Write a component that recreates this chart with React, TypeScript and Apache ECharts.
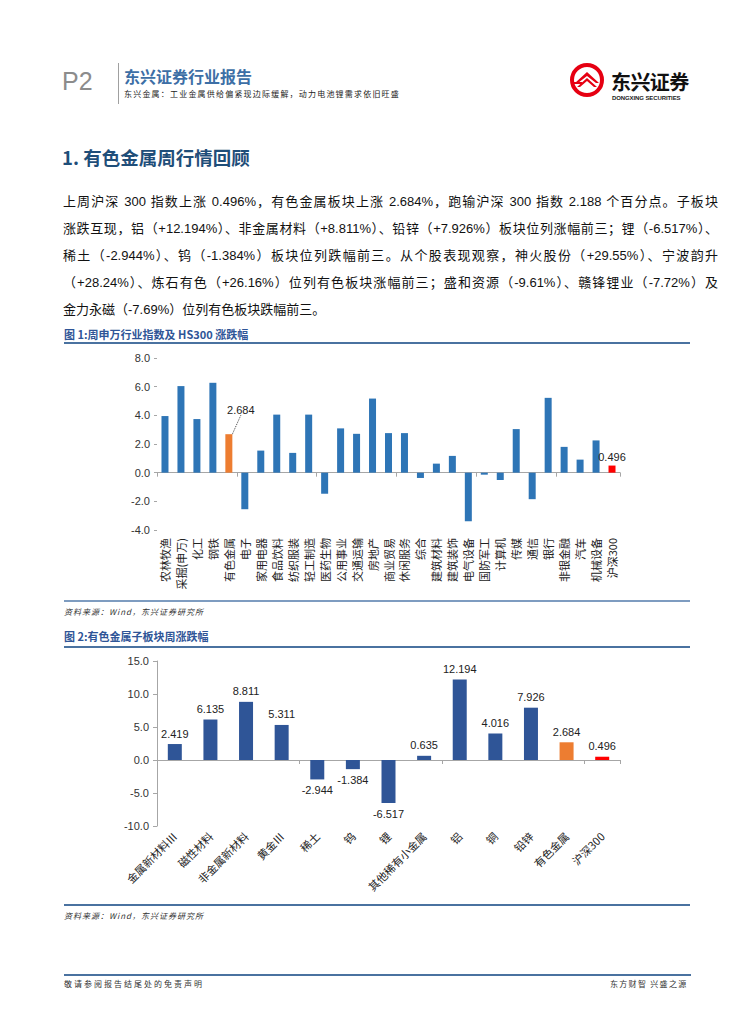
import React, { useEffect, useRef } from "react";
import * as echarts from "echarts";

const cats1 = ["农林牧渔", "采掘(申万)", "化工", "钢铁", "有色金属", "电子", "家用电器", "食品饮料", "纺织服装", "轻工制造", "医药生物", "公用事业", "交通运输", "房地产", "商业贸易", "休闲服务", "综合", "建筑材料", "建筑装饰", "电气设备", "国防军工", "计算机", "传媒", "通信", "银行", "非银金融", "汽车", "机械设备", "沪深300"];
const vals1 = [3.95, 6.04, 3.74, 6.27, 2.684, -2.55, 1.54, 4.05, 1.38, 4.05, -1.47, 3.09, 2.71, 5.17, 2.76, 2.76, -0.37, 0.63, 1.17, -3.39, -0.14, -0.51, 3.04, -1.85, 5.22, 1.8, 0.91, 2.25, 0.496];
const labeled1 = ["有色金属", "沪深300"];

const cats2 = ["金属新材料Ⅲ", "磁性材料", "非金属新材料", "黄金Ⅲ", "稀土", "钨", "锂", "其他稀有小金属", "铝", "铜", "铅锌", "有色金属", "沪深300"];
const vals2 = [2.419, 6.135, 8.811, 5.311, -2.944, -1.384, -6.517, 0.635, 12.194, 4.016, 7.926, 2.684, 0.496];

const yTicks1 = { min: -4, max: 8, interval: 2 };
const yTicks2 = { min: -10, max: 15, interval: 5 };

const paraLines = [
  "上周沪深 300 指数上涨 0.496%，有色金属板块上涨 2.684%，跑输沪深 300 指数 2.188 个百分点。子板块",
  "涨跌互现，铝（+12.194%）、非金属材料（+8.811%）、铅锌（+7.926%）板块位列涨幅前三；锂（-6.517%）、",
  "稀土（-2.944%）、钨（-1.384%）板块位列跌幅前三。从个股表现观察，神火股份（+29.55%）、宁波韵升",
  "（+28.24%）、炼石有色（+26.16%）位列有色板块涨幅前三；盛和资源（-9.61%）、赣锋锂业（-7.72%）及",
  "金力永磁（-7.69%）位列有色板块跌幅前三。",
];

const BLUE1 = "#2E75B6";
const BLUE2 = "#2F5597";
const ORANGE = "#ED7D31";
const RED = "#FF0000";
const FONT = "'Liberation Sans', 'Noto Sans CJK SC', sans-serif";
const CJK = "'Noto Sans CJK SC', 'Liberation Sans', sans-serif";

function colorFor(name: string, base: string) {
  if (name === "有色金属") return ORANGE;
  if (name === "沪深300") return RED;
  return base;
}

function Chart1() {
  const ref = useRef<HTMLDivElement>(null);
  useEffect(() => {
    const chart = echarts.init(ref.current!, null, { renderer: "svg" });
    const data = vals1.map((v, i) => {
      const name = cats1[i];
      const item: any = { value: v, itemStyle: { color: colorFor(name, BLUE1) } };
      if (labeled1.includes(name)) {
        item.label = {
          show: true,
          position: "top",
          distance: 3,
          color: "#222",
          fontSize: 11,
          fontFamily: FONT,
          formatter: (p: any) => String(p.value),
        };
        if (name === "有色金属") item.labelLine = { show: true, lineStyle: { color: "#444", width: 1, type: "dotted" } };
      }
      return item;
    });
    chart.setOption({
      animation: false,
      grid: { left: 157, top: 18, width: 463, height: 172 },
      xAxis: [
        {
          type: "category",
          data: cats1,
          position: "bottom",
          axisLine: { show: false, onZero: false },
          axisTick: { show: false },
          axisLabel: { rotate: 90, interval: 0, margin: 8, fontSize: 11, color: "#222", fontFamily: CJK },
        },
        {
          type: "category",
          data: cats1,
          position: "bottom",
          axisLine: { show: true, onZero: true, lineStyle: { color: "#A6A6A6", width: 1 } },
          axisTick: { show: true, length: 4, lineStyle: { color: "#A6A6A6" } },
          axisLabel: { show: false },
        },
      ],
      yAxis: {
        type: "value",
        ...yTicks1,
        axisLine: { show: false },
        axisTick: { show: true, length: 3, lineStyle: { color: "#A6A6A6" } },
        splitLine: { show: false },
        axisLabel: { fontSize: 11, color: "#333", fontFamily: FONT, margin: 7, formatter: (v: number) => v.toFixed(1) },
      },
      series: [
        {
          type: "bar",
          xAxisIndex: 0,
          barWidth: 7,
          data,
          labelLayout: (p: any) => (p.dataIndex === 4 ? { dx: 12, dy: -16 } : {}),
        },
      ],
    });
    return () => chart.dispose();
  }, []);
  return <div ref={ref} style={{ position: "absolute", left: 0, top: 340, width: 755, height: 260 }} />;
}

function Chart2() {
  const ref = useRef<HTMLDivElement>(null);
  useEffect(() => {
    const chart = echarts.init(ref.current!, null, { renderer: "svg" });
    const data = vals2.map((v, i) => ({
      value: v,
      itemStyle: { color: colorFor(cats2[i], BLUE2) },
      label: { position: v < 0 ? "bottom" : "top" },
    }));
    chart.setOption({
      animation: false,
      grid: { left: 157, top: 11, width: 463, height: 165 },
      xAxis: [
        {
          type: "category",
          data: cats2,
          position: "bottom",
          axisLine: { show: false, onZero: false },
          axisTick: { show: false },
          axisLabel: { rotate: 45, interval: 0, margin: 8, fontSize: 11, color: "#222", fontFamily: CJK },
        },
        {
          type: "category",
          data: cats2,
          position: "bottom",
          axisLine: { show: true, onZero: true, lineStyle: { color: "#A6A6A6", width: 1 } },
          axisTick: { show: true, length: 4, lineStyle: { color: "#A6A6A6" } },
          axisLabel: { show: false },
        },
      ],
      yAxis: {
        type: "value",
        ...yTicks2,
        axisLine: { show: true, lineStyle: { color: "#A6A6A6" } },
        axisTick: { show: true, length: 4, lineStyle: { color: "#A6A6A6" } },
        splitLine: { show: false },
        axisLabel: { fontSize: 11, color: "#333", fontFamily: FONT, margin: 8, formatter: (v: number) => v.toFixed(1) },
      },
      series: [
        {
          type: "bar",
          xAxisIndex: 0,
          barWidth: 14,
          data,
          label: { show: true, distance: 5, fontSize: 11, color: "#222", fontFamily: FONT },
        },
      ],
    });
    return () => chart.dispose();
  }, []);
  return <div ref={ref} style={{ position: "absolute", left: 0, top: 650, width: 755, height: 255 }} />;
}

const abs = (x: number, y: number, extra: any = {}) => ({ position: "absolute" as const, left: x, top: y, whiteSpace: "nowrap" as const, ...extra });

export default function App() {
  return (
    <div style={{ position: "absolute", left: 0, top: 0, width: 755, height: 1024, background: "#fff", overflow: "hidden", fontFamily: CJK, color: "#111" }}>
      {/* header */}
      <div style={abs(62, 67, { fontSize: 25, color: "#8C8C8C", fontFamily: "'Liberation Sans', sans-serif", lineHeight: "28px" })}>P2</div>
      <div style={abs(118, 63, { width: 0, height: 41, borderLeft: "1.5px solid #A0A0A0" })} />
      <div style={abs(124, 67, { fontSize: 16, fontWeight: 700, color: "#3D6FA6", lineHeight: "19px" })}>东兴证券行业报告</div>
      <div style={abs(124, 89, { fontSize: 8, color: "#222", lineHeight: "10px", letterSpacing: "1.2px" })}>东兴金属：工业金属供给偏紧现边际缓解，动力电池锂需求依旧旺盛</div>
      <svg style={abs(568, 62)} width="40" height="40" viewBox="0 0 40 40">
        <circle cx="19" cy="18" r="15" fill="#fff" stroke="#E60012" strokeWidth="4" />
        <polygon points="7,21 19,10 31,21 28,21 19,14 10,21" fill="#E60012" />
        <polygon points="9,25 19,16 29,25 26,25 19,19 12,25" fill="#E60012" />
        <rect x="6" y="20" width="8" height="2" fill="#E60012" />
      </svg>
      <div style={abs(611, 71, { fontSize: 20, fontWeight: 700, color: "#111", lineHeight: "21px", letterSpacing: "-0.6px" })}>东兴证券</div>
      <div style={abs(612, 95, { fontSize: 6, fontWeight: 700, color: "#222", lineHeight: "7px", fontFamily: "'Liberation Sans', sans-serif", letterSpacing: "-0.1px" })}>DONGXING SECURITIES</div>

      {/* section title */}
      <div style={abs(62, 146, { fontSize: 18.5, fontWeight: 700, color: "#1F4E79", lineHeight: "22px" })}>1. 有色金属周行情回顾</div>

      {/* paragraph */}
      {paraLines.map((t, i) => (
        <div
          key={i}
          style={{
            position: "absolute",
            left: 63,
            top: 193 + i * 27,
            width: i < 4 ? 655 : undefined,
            whiteSpace: "nowrap",
            fontSize: 13,
            lineHeight: "18px",
            color: "#111",
            textAlign: i < 4 ? ("justify" as const) : ("left" as const),
            textAlignLast: i < 4 ? ("justify" as const) : ("auto" as const),
            fontFamily: "'Liberation Sans', 'Noto Sans CJK SC', sans-serif",
          }}
        >
          {t}
        </div>
      ))}

      {/* figure 1 */}
      <div style={abs(64, 326, { fontSize: 11, fontWeight: 700, color: "#2F5597", lineHeight: "16px" })}>图 1:周申万行业指数及 HS300 涨跌幅</div>
      <div style={abs(64, 342, { width: 626, height: 0, borderTop: "2px solid #4A72A0" })} />
      <Chart1 />
      <div style={abs(64, 600, { width: 626, height: 0, borderTop: "2px solid #7E9CC0" })} />
      <div style={abs(64, 606, { fontSize: 8, fontStyle: "italic", color: "#333", lineHeight: "12px", letterSpacing: "1px" })}>资料来源：Wind，东兴证券研究所</div>

      {/* figure 2 */}
      <div style={abs(64, 628, { fontSize: 11, fontWeight: 700, color: "#2F5597", lineHeight: "16px" })}>图 2:有色金属子板块周涨跌幅</div>
      <div style={abs(64, 646, { width: 626, height: 0, borderTop: "2px solid #4A72A0" })} />
      <Chart2 />
      <div style={abs(64, 904, { width: 626, height: 0, borderTop: "2px solid #4A72A0" })} />
      <div style={abs(64, 910, { fontSize: 8, fontStyle: "italic", color: "#333", lineHeight: "12px", letterSpacing: "1px" })}>资料来源：Wind，东兴证券研究所</div>

      {/* footer */}
      <div style={abs(64, 974, { width: 627, height: 0, borderTop: "2px solid #4A72A0" })} />
      <div style={abs(64, 978, { fontSize: 8, color: "#333", lineHeight: "12px", letterSpacing: "2px" })}>敬请参阅报告结尾处的免责声明</div>
      <div style={abs(610, 978, { fontSize: 8, color: "#333", lineHeight: "12px", letterSpacing: "1.3px" })}>东方财智 兴盛之源</div>
    </div>
  );
}
